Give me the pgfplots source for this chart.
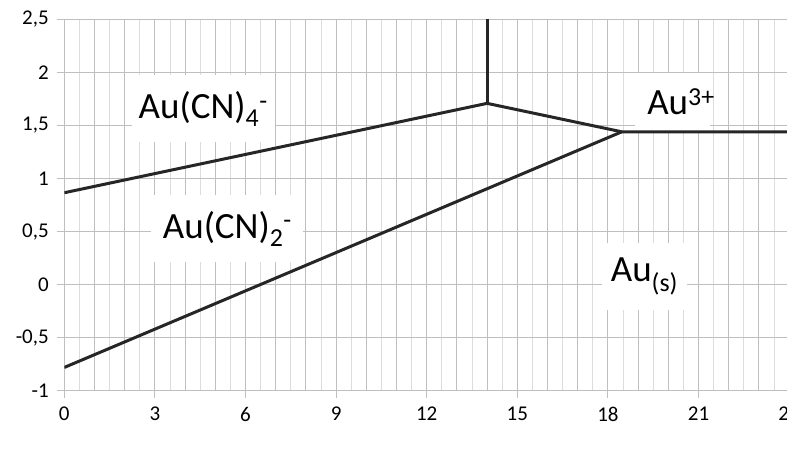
\documentclass[border=0pt]{standalone}
\usepackage{fontspec}
\setmainfont{Carlito}
\usepackage{pgfplots}
\pgfplotsset{compat=1.18}
\pgfkeys{/pgf/number format/assume math mode=true, /pgf/number format/use comma}
\definecolor{gridmaj}{RGB}{191,191,191}
\definecolor{gridmin}{RGB}{220,220,220}
\definecolor{linec}{RGB}{38,38,38}
\newcommand{\tlfont}{\fontsize{21}{25}\selectfont}
\begin{document}
\begin{tikzpicture}
\path[use as bounding box] (-64.3pt,-75pt) rectangle (722.7pt,390.8pt);
\clip (-64.3pt,-75pt) rectangle (722.7pt,390.8pt);
\begin{axis}[
  at={(0pt,0pt)}, anchor=south west,
  scale only axis,
  width=724.8pt, height=371.5pt,
  xmin=0, xmax=24, ymin=-1, ymax=2.5,
  xtick={0,3,...,24},
  ytick={-1,-0.5,0,0.5,1,1.5,2,2.5},
  minor xtick={0,0.5,...,24},
  extra x ticks={1,2,4,5,7,8,10,11,13,14,16,17,19,20,22,23},
  extra x tick labels={},
  extra x tick style={grid=major, major tick length=0pt},
  xmajorgrids, ymajorgrids, xminorgrids,
  major grid style={gridmaj, line width=1pt},
  minor grid style={gridmin, line width=1pt},
  axis line style={gridmaj, line width=1pt},
  tick align=outside,
  xtick pos=bottom, ytick pos=left,
  major tick length=7pt, minor tick length=0pt,
  major tick style={gridmaj, line width=1pt},
  xticklabel={\tlfont\pgfmathprintnumber[assume math mode=true,use comma]{\tick}},
  yticklabel={\tlfont\pgfmathprintnumber[assume math mode=true,use comma]{\tick}},
  tick label style={text=black},
  yticklabel style={xshift=-5pt},
  xticklabel style={yshift=-6pt},
]
\node[fill=white, inner sep=0pt, minimum width=143pt, minimum height=67pt,
  font=\fontsize{37}{40}\selectfont] at (axis cs:4.6,1.659) {Au(CN)\textsubscript{4}\textsuperscript{-}};
\node[fill=white, inner sep=0pt, minimum width=152pt, minimum height=67pt,
  font=\fontsize{37}{40}\selectfont] at (axis cs:5.4,0.528) {Au(CN)\textsubscript{2}\textsuperscript{-}};
\node[fill=white, inner sep=0pt, minimum width=75pt, minimum height=58pt] at (axis cs:20.14,1.721) {};
\node[inner sep=0pt, font=\fontsize{37}{40}\selectfont] at (axis cs:20.42,1.721) {Au\textsuperscript{3+}};
\node[fill=white, inner sep=0pt, minimum width=85pt, minimum height=67pt,
  font=\fontsize{37}{40}\selectfont] at (axis cs:19.21,0.076) {Au\textsubscript{(s)}};
\addplot[linec, line width=3pt, mark=none] coordinates {(0,0.866) (14,1.708) (18.46,1.44) (24,1.44)};
\addplot[linec, line width=3pt, mark=none] coordinates {(14,1.708) (14,2.5)};
\addplot[linec, line width=3pt, mark=none] coordinates {(0,-0.78) (18.46,1.44)};
\node[anchor=north, inner sep=0pt, font=\fontsize{34}{36}\selectfont\bfseries]
  at ([yshift=-49pt]axis description cs:0.516,0) {pCN};
\node[anchor=east, inner sep=0pt, font=\fontsize{34}{36}\selectfont\bfseries]
  at ([xshift=-56.3pt]axis description cs:0,0.491) {V};
\end{axis}
\end{tikzpicture}
\end{document}
